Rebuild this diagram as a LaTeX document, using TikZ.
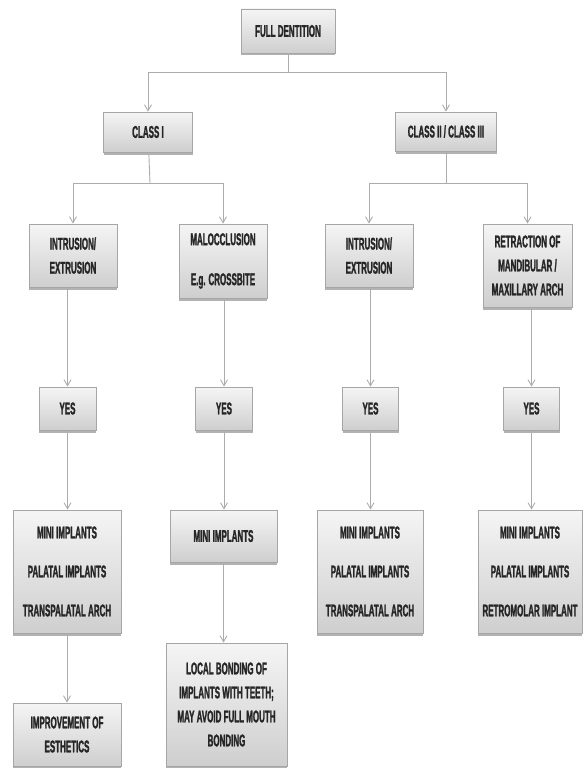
\documentclass[tikz,border=0pt]{standalone}
\usepackage{fontspec}
\setmainfont{Liberation Sans}[FakeStretch=0.47, BoldFont={Liberation Sans Bold}, BoldFeatures={FakeBold=1.4}]
\usetikzlibrary{arrows.meta,shadows}
\begin{document}
\begin{tikzpicture}[x=1pt,y=-1pt,
  box/.style={draw=gray!70, line width=0.8pt,
    preaction={fill=gray!60, transform canvas={yshift=-2.5pt}},
    preaction={fill=gray!18},
    top color=gray!8, bottom color=gray!38,
    align=center, font=\fontsize{17}{24}\selectfont\bfseries, text=black!85, inner sep=0pt},
  conn/.style={draw=gray!65, line width=0.9pt},
  arr/.style={conn, -{Straight Barb[length=6pt,width=7pt]}}]
\useasboundingbox (0,0) rectangle (584,768);
% level 0
\node[box, minimum width=94pt, minimum height=44pt] (fd) at (288,31) {FULL DENTITION};
% level 1
\node[box, minimum width=89pt, minimum height=40pt] (c1) at (148,132) {CLASS I};
\node[box, minimum width=101pt, minimum height=39pt] (c2) at (446,131.5) {CLASS II / CLASS III};
% level 2
\node[box, minimum width=88pt, minimum height=63pt] (i1) at (73,255.5) {INTRUSION/\\EXTRUSION};
\node[box, minimum width=88pt, minimum height=74pt] (m1) at (223,261) {MALOCCLUSION\\[16pt]E.g. CROSSBITE};
\node[box, minimum width=88pt, minimum height=63pt] (i2) at (369,255.5) {INTRUSION/\\EXTRUSION};
\node[box, minimum width=89pt, minimum height=83pt] (r2) at (527.5,265.5) {RETRACTION OF\\MANDIBULAR /\\MAXILLARY ARCH};
% YES
\node[box, minimum width=57pt, minimum height=43pt] (y1) at (67.5,408.5) {YES};
\node[box, minimum width=57pt, minimum height=43pt] (y2) at (224,408.5) {YES};
\node[box, minimum width=56pt, minimum height=43pt] (y3) at (370.5,408.5) {YES};
\node[box, minimum width=56pt, minimum height=43pt] (y4) at (531.5,408.5) {YES};
% level 4
\node[box, minimum width=108pt, minimum height=123pt] (b1) at (67,571.5) {MINI IMPLANTS\\[15pt]PALATAL IMPLANTS\\[15pt]TRANSPALATAL ARCH};
\node[box, minimum width=107pt, minimum height=52pt] (b2) at (223.5,536) {MINI IMPLANTS};
\node[box, minimum width=106pt, minimum height=123pt] (b3) at (370,571.5) {MINI IMPLANTS\\[15pt]PALATAL IMPLANTS\\[15pt]TRANSPALATAL ARCH};
\node[box, minimum width=104pt, minimum height=123pt] (b4) at (530,571.5) {MINI IMPLANTS\\[15pt]PALATAL IMPLANTS\\[15pt]RETROMOLAR IMPLANT};
% level 5
\node[box, minimum width=108pt, minimum height=63pt] (e1) at (67,734.5) {IMPROVEMENT OF\\ESTHETICS};
\node[box, minimum width=121pt, minimum height=123pt] (l2) at (226.5,704.5) {LOCAL BONDING OF\\IMPLANTS WITH TEETH;\\MAY AVOID FULL MOUTH\\BONDING};
% junctions
\coordinate (j0) at (288,72);
\coordinate (j1) at (150,183);
\coordinate (j2) at (446,183);
\draw[conn] (fd) -- (j0);
\draw[arr] (j0) -| (c1.north);
\draw[arr] (j0) -| (c2.north);
\draw[conn] (c1) -- (j1);
\draw[arr] (j1) -| (i1.north);
\draw[arr] (j1) -| (m1.north);
\draw[conn] (c2) -- (j2);
\draw[arr] (j2) -| (i2.north);
\draw[arr] (j2) -| (r2.north);
% verticals
\draw[arr] (i1.south -| y1) -- (y1.north);
\draw[arr] (m1.south -| y2) -- (y2.north);
\draw[arr] (i2.south -| y3) -- (y3.north);
\draw[arr] (r2.south -| y4) -- (y4.north);
\draw[arr] (y1.south) -- (y1.south |- b1.north);
\draw[arr] (y2.south) -- (y2.south |- b2.north);
\draw[arr] (y3.south) -- (y3.south |- b3.north);
\draw[arr] (y4.south) -- (y4.south |- b4.north);
\draw[arr] (b1.south) -- (e1.north);
\draw[arr] (b2.south) -- (b2.south |- l2.north);
\end{tikzpicture}
\end{document}
